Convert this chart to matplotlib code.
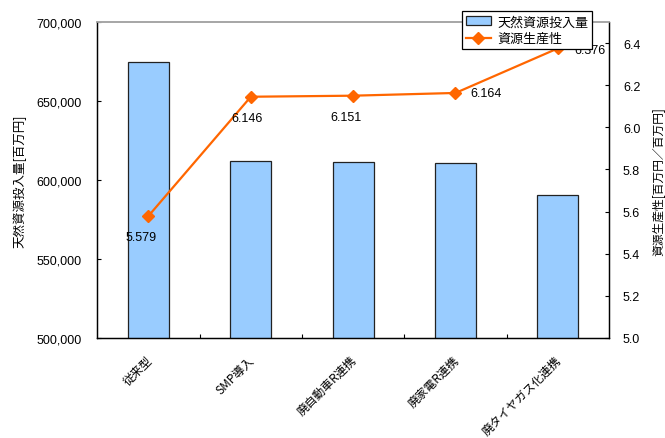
import matplotlib
matplotlib.use("Agg")
import matplotlib.pyplot as plt
from matplotlib.patches import Patch
from matplotlib.lines import Line2D
from matplotlib.transforms import ScaledTranslation
import numpy as np

# Scenario data
categories = ["従来型", "SMP導入", "廃自動車R連携", "廃家電R連携", "廃タイヤガス化連携"]
resource_input = [674600, 612200, 611300, 610500, 590300]      # 天然資源投入量 [百万円]
productivity = [5.579, 6.146, 6.151, 6.164, 6.376]              # 資源生産性 [百万円／百万円]
left_ticks = [500000, 550000, 600000, 650000, 700000]
right_ticks = [5.0, 5.2, 5.4, 5.6, 5.8, 6.0, 6.2, 6.4]

JP = ["Noto Sans CJK JP", "DejaVu Sans"]
NUM = ["Liberation Sans", "DejaVu Sans"]
BAR_COLOR = "#99CCFF"
LINE_COLOR = "#FF6600"

fig = plt.figure(figsize=(6.65, 4.39), dpi=100)
ax = fig.add_axes([0.1463, 0.2285, 0.9158 - 0.1463, 0.9469 - 0.2285])
ax2 = ax.twinx()

x = np.arange(len(categories))
ax.bar(x, resource_input, width=0.4, color=BAR_COLOR, edgecolor="#222222",
       linewidth=0.9, zorder=2)
ax.set_xlim(-0.5, len(categories) - 0.5)
ax.set_ylim(500000, 700000)
ax.set_yticks(left_ticks)
ax.set_yticklabels([f"{v:,}" for v in left_ticks], family=NUM, fontsize=9)
ax.tick_params(axis="y", direction="in", length=3, pad=11, width=0.8)

# category labels below the axis, boundary ticks between categories
ax.set_xticks(x)
ax.set_xticklabels(categories, family=JP, fontsize=8.5, rotation=45,
                   ha="right", va="top", rotation_mode="anchor")
ax.tick_params(axis="x", which="major", length=0, pad=11)
shift = ScaledTranslation(-3 / 100, 0, fig.dpi_scale_trans)
for lbl in ax.get_xticklabels():
    lbl.set_transform(lbl.get_transform() + shift)
ax.set_xticks(np.arange(0.5, len(categories) - 0.5, 1.0), minor=True)
ax.tick_params(axis="x", which="minor", direction="in", length=3, width=0.8)

ax.set_ylabel("天然資源投入量[百万円]", family=JP, fontsize=9)
ax.yaxis.set_label_coords(-0.138, 0.5)

ax2.plot(x, productivity, color=LINE_COLOR, linewidth=1.6, marker="D",
         markersize=6.5, zorder=3)
ax2.set_ylim(5.0, 6.5)
ax2.set_yticks(right_ticks)
ax2.set_yticklabels([f"{v:.1f}" for v in right_ticks], family=NUM, fontsize=9)
ax2.tick_params(axis="y", direction="in", length=3, pad=10, width=0.8)
ax2.set_ylabel("資源生産性[百万円／百万円]", family=JP, fontsize=8.5, rotation=90)
ax2.yaxis.set_label_coords(1.083, 0.497)

label_offsets = [(-5.5, -15), (-3, -15), (-5, -15), (22, 0), (23, -1)]
for xi, v, off in zip(x, productivity, label_offsets):
    ax2.annotate(f"{v:.3f}", (xi, v), xytext=off, textcoords="offset points",
                 ha="center", va="center", family=NUM, fontsize=9, zorder=4)

for a in (ax, ax2):
    for side in ("left", "right", "bottom"):
        a.spines[side].set_color("black")
        a.spines[side].set_linewidth(0.9)
    a.spines["top"].set_color("#A6A6A6")
    a.spines["top"].set_linewidth(1.2)

handles = [
    Patch(facecolor=BAR_COLOR, edgecolor="#222222", linewidth=0.9),
    Line2D([0], [0], color=LINE_COLOR, linewidth=1.6, marker="D", markersize=6.5),
]
leg = fig.legend(handles, ["天然資源投入量", "資源生産性"], loc="upper left",
                 bbox_to_anchor=(0.6947, 0.972), borderaxespad=0,
                 prop={"family": JP, "size": 9.4}, frameon=True, fancybox=False,
                 edgecolor="black", framealpha=1, handlelength=1.9,
                 handletextpad=0.5, borderpad=0.3, labelspacing=0.3)
leg.get_frame().set_linewidth(0.9)

fig.savefig("out.png", dpi=100)
